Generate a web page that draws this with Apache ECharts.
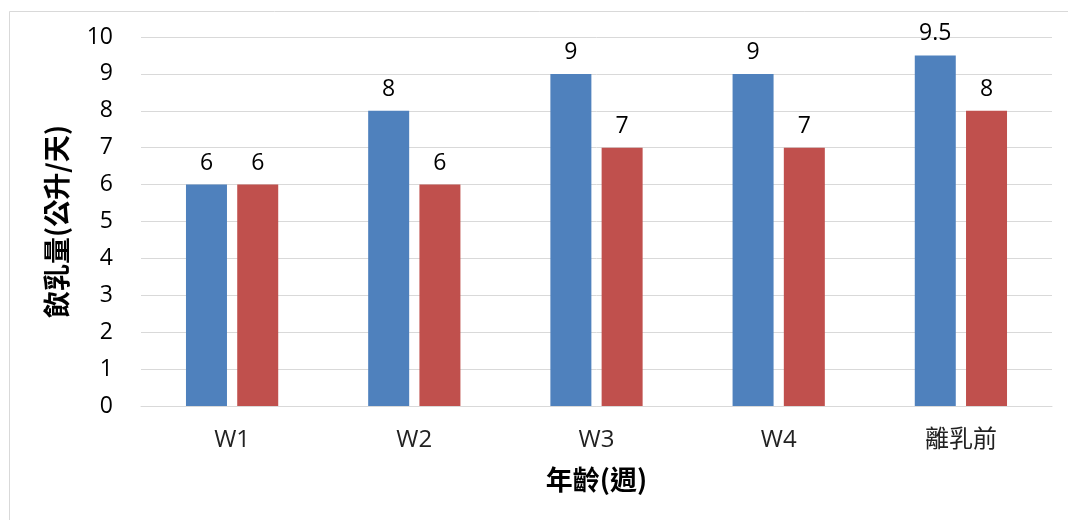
<!DOCTYPE html>
<html>
<head>
<meta charset="utf-8">
<script src="https://cdn.jsdelivr.net/npm/echarts@6/dist/echarts.min.js"></script>
<style>
  html, body { margin: 0; padding: 0; background: #fff; }
  #chart { width: 1068px; height: 520px; }
</style>
</head>
<body>
<div id="chart"></div>
<script>
// Weekly milk intake (litres per day) for two groups of calves
const categories = ['W1', 'W2', 'W3', 'W4', '離乳前'];
const seriesBlue = [6, 8, 9, 9, 9.5];
const seriesRed = [6, 6, 7, 7, 8];
const yTicks = { min: 0, max: 10, interval: 1 };

const latin = '"Open Sans", Lato, "Noto Sans CJK TC", sans-serif';
const cjk = '"Noto Sans CJK TC", "Noto Sans", sans-serif';

const chart = echarts.init(document.getElementById('chart'), null, { renderer: 'canvas' });

const valueLabel = {
  show: true,
  position: 'top',
  distance: 10,
  color: '#000',
  fontSize: 23,
  fontFamily: latin
};

chart.setOption({
  animation: false,
  backgroundColor: '#fff',
  graphic: [{
    type: 'rect',
    shape: { x: 9.5, y: 11.5, width: 1200, height: 700 },
    style: { fill: 'none', stroke: '#d9d9d9', lineWidth: 1 },
    silent: true
  }],
  grid: { left: 141, right: 16, top: 37, bottom: 114 },
  xAxis: {
    type: 'category',
    data: categories,
    axisLine: { show: true, lineStyle: { color: '#d9d9d9', width: 1 } },
    axisTick: { show: false },
    axisLabel: {
      color: '#222',
      fontSize: 24,
      fontFamily: latin,
      margin: 22
    },
    name: '年齡(週)',
    nameLocation: 'middle',
    nameGap: 60,
    nameTextStyle: {
      color: '#000',
      fontSize: 27,
      fontWeight: 'bold',
      fontFamily: cjk
    }
  },
  yAxis: {
    type: 'value',
    min: yTicks.min,
    max: yTicks.max,
    interval: yTicks.interval,
    axisLine: { show: false },
    axisTick: { show: false },
    splitLine: { lineStyle: { color: '#d9d9d9', width: 1 } },
    axisLabel: {
      color: '#000',
      fontSize: 23,
      fontFamily: latin,
      margin: 28
    },
    name: '飲乳量(公升/天)',
    nameLocation: 'middle',
    nameGap: 71,
    nameRotate: 90,
    nameTextStyle: {
      color: '#000',
      fontSize: 27,
      fontWeight: 'bold',
      fontFamily: cjk
    }
  },
  series: [
    {
      type: 'bar',
      data: seriesBlue,
      barWidth: 41,
      barGap: '25%',
      itemStyle: { color: '#4F81BD' },
      label: valueLabel
    },
    {
      type: 'bar',
      data: seriesRed,
      barWidth: 41,
      barGap: '25%',
      itemStyle: { color: '#C0504D' },
      label: valueLabel
    }
  ]
});
</script>
</body>
</html>
